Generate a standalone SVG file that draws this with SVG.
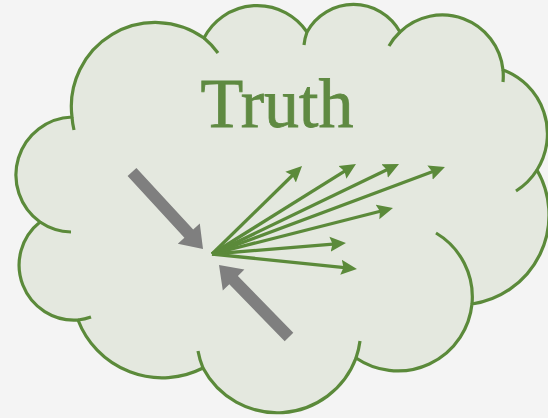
<svg xmlns="http://www.w3.org/2000/svg" width="548" height="418" viewBox="0 0 548 418">
<defs>
<style>
.cloud{fill:#e4e8df;stroke:#5b8a3a;stroke-width:3.2;stroke-linejoin:round}
.tail{fill:none;stroke:#5b8a3a;stroke-width:3.2;stroke-linecap:butt}
.ray{fill:none;stroke:#5b8a3a;stroke-width:3.3;marker-end:url(#ah)}
.block{fill:#7f7f7f}
.title{font-family:"Liberation Serif","Times New Roman",serif;font-size:70px;fill:#5f8a42;stroke:#5f8a42;stroke-width:0.8}
</style>
<marker id="ah" markerUnits="userSpaceOnUse" markerWidth="16" markerHeight="16" refX="6" refY="8" orient="auto" viewBox="0 0 16 16">
<path d="M0,0.5 L16,8 L0,15.5 L2.5,8 z" fill="#5b8a3a"/>
</marker>
</defs>
<rect width="548" height="418" fill="#f4f4f4"/>
<g id="cloud">
<path class="cloud" d="M72,117 A84,84 0 0 1 204,38 A60,60 0 0 1 307,32 A53,53 0 0 1 400,32 A61,61 0 0 1 503,70 A68,68 0 0 1 537,170 A90,90 0 0 1 472,304 A74.5,74.5 0 0 1 356,358 A84,84 0 0 1 203,368 A90,90 0 0 1 78,320 A55,55 0 0 1 40,222 A58,58 0 0 1 72,117 Z"/>
<path class="tail" d="M72,117 A84,84 0 0 0 74,130 M204,38 A84,84 0 0 1 218,53 M307,32 A53,53 0 0 0 304,45 M400,32 A61,61 0 0 0 389,46 M503,70 A61,61 0 0 1 503,82 M537,170 A68,68 0 0 1 516,191 M472,304 A74.5,74.5 0 0 0 436,233 M356,358 A84,84 0 0 0 360,341 M203,368 A84,84 0 0 1 198,351 M78,320 A55,55 0 0 0 91,317 M40,222 A58,58 0 0 0 71,232"/>
</g>
<g id="title"><text class="title" x="277" y="127" text-anchor="middle">Truth</text></g>
<g id="connectors">
<path class="ray" d="M212,254 L294.9,173"/>
<path class="ray" d="M212,254 L347.5,169.3"/>
<path class="ray" d="M212,254 L390,168.3"/>
<path class="ray" d="M212,254 L435.6,170.5"/>
<path class="ray" d="M212,254 L383.3,210.5"/>
<path class="ray" d="M212,254 L336,243.8"/>
<path class="ray" d="M212,254 L347,267.9"/>
<polygon id="arrow-in-upper" class="block" points="136.4,167.9 193.2,229.5 199.8,223.4 203,249 177.8,243.8 184.4,237.7 127.6,176.1"/>
<polygon id="arrow-in-lower" class="block" points="293.3,332.8 237.9,275.9 244.4,269.6 219,265 222.8,290.6 229.3,284.3 284.7,341.2"/>
</g>
</svg>
